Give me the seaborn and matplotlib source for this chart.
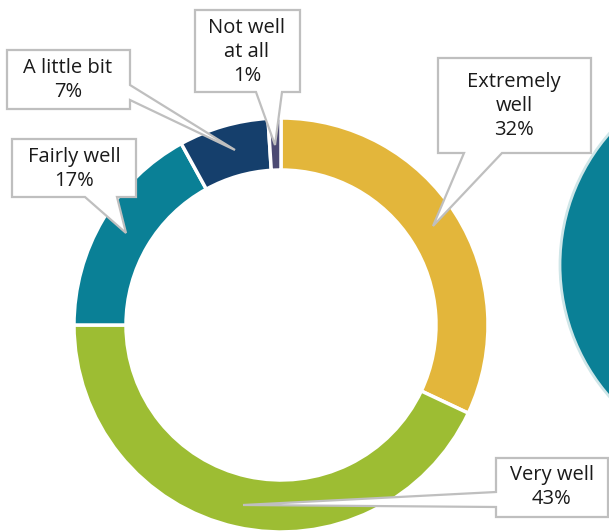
import matplotlib.pyplot as plt
import seaborn as sns
from matplotlib.patches import Polygon, Circle

# answers, clockwise from 12 o'clock
CATEGORIES = ["Extremely well", "Very well", "Fairly well", "A little bit", "Not well at all"]
SHARES = [32, 43, 17, 7, 1]
LABELS = ["Extremely\nwell\n32%", "Very well\n43%", "Fairly well\n17%", "A little bit\n7%", "Not well\nat all\n1%"]
COLORS = ["#E3B63B", "#9DBD33", "#0A8096", "#153F6C", "#4C4A73"]

W, H = 609, 531


def flip(pts):
    return [(x, H - y) for x, y in pts]


def callout(ax, box, tail, tip, side, text, tx, ty):
    """box = (x0, y0, x1, y1) in pixel coords (y down); tail = two points on box edge"""
    x0, y0, x1, y1 = box
    a, b = tail
    if side == "bottom":
        pts = [(x0, y0), (x1, y0), (x1, y1), (b, y1), tip, (a, y1), (x0, y1)]
    elif side == "right":
        pts = [(x0, y0), (x1, y0), (x1, a), tip, (x1, b), (x1, y1), (x0, y1)]
    else:  # left
        pts = [(x0, y0), (x1, y0), (x1, y1), (x0, y1), (x0, b), tip, (x0, a)]
    ax.add_patch(Polygon(flip(pts), closed=True, facecolor="white",
                         edgecolor="#BFBFBF", linewidth=1.6, zorder=5))
    ax.text(tx, H - ty, text, ha="center", va="center", fontsize=14.5,
            linespacing=1.28, color="#1a1a1a", zorder=6)


sns.set_theme(style="white")
plt.rcParams["font.family"] = ["Open Sans", "DejaVu Sans"]

fig = plt.figure(figsize=(W / 100, H / 100), dpi=100)
ax = fig.add_axes([0, 0, 1, 1])
ax.set_xlim(0, W)
ax.set_ylim(0, H)
ax.set_aspect("equal")
ax.axis("off")

# neighbouring chart peeking in at the right edge
ax.add_patch(Circle((760, H - 265), 200, facecolor="#0A8096",
                    edgecolor="#CFE6E8", linewidth=2, zorder=1))

ax.pie(SHARES, colors=COLORS, startangle=90, counterclock=False,
       radius=207, center=(281, H - 325),
       wedgeprops=dict(width=52, edgecolor="white", linewidth=2.5))
ax.set_xlim(0, W)
ax.set_ylim(0, H)

callout(ax, (438, 58, 591, 153), (464, 502), (433, 226), "bottom", LABELS[0], 514, 106)
callout(ax, (496, 458, 608, 517), (492, 507), (243, 505), "left", LABELS[1], 552, 487)
callout(ax, (12, 139, 136, 197), (85, 117), (126, 233), "bottom", LABELS[2], 74, 169)
callout(ax, (7, 50, 130, 109), (85, 100), (235, 150), "right", LABELS[3], 68, 80)
callout(ax, (195, 10, 300, 92), (256, 282), (275, 145), "bottom", LABELS[4], 247, 52)

fig.savefig("out.png", dpi=100)
